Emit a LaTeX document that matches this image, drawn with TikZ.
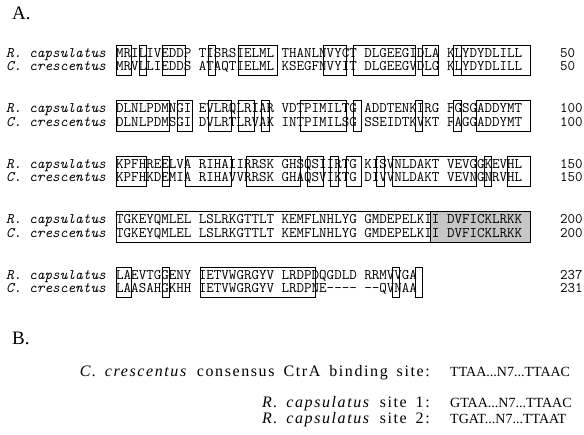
\documentclass[tikz,border=0pt]{standalone}
\usepackage{fontspec}
\setmainfont{Liberation Serif}
\newfontfamily\sitefont[LetterSpace=10, WordSpace=1.6]{Liberation Serif}
\usepackage{tikz}
\newcommand{\seqfont}{\ttfamily\fontsize{14.6}{15}\selectfont}
\newcommand{\gapp}{-\kern0pt-\kern0pt-\kern0pt-}
% box round residues #2..#3 of the block whose first row is at #1
\newcommand{\idbox}[3]{%
  \draw[idbox] ({116+(#2-1+int((#2-1)/10))*7.67},{#1-8})
    rectangle ({116+(#3+int((#3-1)/10))*7.67},{#1+22.5});}

\begin{document}
\begin{tikzpicture}[
  x=1pt, y=-1pt,
  seq/.style={font=\seqfont, anchor=base west, inner sep=0pt},
  org/.style={font=\seqfont\itshape, anchor=base west, inner sep=0pt},
  resnum/.style={font=\seqfont, anchor=base west, inner sep=0pt},
  idbox/.style={draw, line width=0.9pt},
  motif/.style={draw, line width=0.9pt, fill=gray!45},
  part/.style={font=\fontsize{19}{19}\selectfont, anchor=west, inner sep=0pt},
  sitelbl/.style={font=\sitefont\fontsize{16}{16}\selectfont, anchor=base east, inner sep=0pt},
  siteseq/.style={font=\fontsize{14}{14}\selectfont, anchor=base west, inner sep=0pt}
]
\useasboundingbox (0,0) rectangle (584,435);

% A. --- alignment
\node[part] (partA) at (12,13) {A.};

% residues 1-50
\foreach \a/\b in {1/2,4/4,7/9,12/12,16/20,26/28,30/36,38/39,41/41,42/50}
  \idbox{53}{\a}{\b};
\node[org] (rc1) at (6,57.5) {R.\ capsulatus};
\node[org] (cc1) at (6,71) {C.\ crescentus};
\node[seq] (rs1) at (116,57.5) {MRILIVEDDP TISRSIELML THANLNVYCT DLGEEGIDLA KLYDYDLILL};
\node[seq] (cs1) at (116,71) {MRVLLIEDDS ATAQTIELML KSEGFNVYIT DLGEEGVDLG KLYDYDLILL};
\node[resnum] (rn1) at (560,57.5) {50};
\node[resnum] (cn1) at (560,71) {50};

% residues 51-100
\foreach \a/\b in {1/7,9/10,12/14,16/17,19/19,23/28,30/30,37/37,41/41,44/50}
  \idbox{108.5}{\a}{\b};
\node[org] (rc2) at (6,113) {R.\ capsulatus};
\node[org] (cc2) at (6,126.5) {C.\ crescentus};
\node[seq] (rs2) at (116,113) {DLNLPDMNGI EVLRQLRIAR VDTPIMILTG ADDTENKIRG FGSGADDYMT};
\node[seq] (cs2) at (116,126.5) {DLNLPDMSGI DVLRTLRVAK INTPIMILSG SSEIDTKVKT FAGGADDYMT};
\node[resnum] (rn2) at (560,113) {100};
\node[resnum] (cn2) at (560,126.5) {100};

% residues 101-150
\foreach \a/\b in {1/4,7/7,10/14,17/22,24/25,27/27,29/30,32/32,34/43,45/45,48/50}
  \idbox{164}{\a}{\b};
\node[org] (rc3) at (6,168.5) {R.\ capsulatus};
\node[org] (cc3) at (6,182) {C.\ crescentus};
\node[seq] (rs3) at (116,168.5) {KPFHREELVA RIHAIIRRSK GHSQSIIRTG KISVNLDAKT VEVGGKEVHL};
\node[seq] (cs3) at (116,182) {KPFHKDEMIA RIHAVVRRSK GHAQSVIKTG DIVVNLDAKT VEVNGNRVHL};
\node[resnum] (rn3) at (560,168.5) {150};
\node[resnum] (cn3) at (560,182) {150};

% residues 151-200, shaded stretch at the end
\draw[motif] ({116+41*7.67},{219.5-8}) rectangle ({116+54*7.67},{219.5+22.5});
\idbox{219.5}{1}{50}
\node[org] (rc4) at (6,224) {R.\ capsulatus};
\node[org] (cc4) at (6,237.5) {C.\ crescentus};
\node[seq] (rs4) at (116,224) {TGKEYQMLEL LSLRKGTTLT KEMFLNHLYG GMDEPELKII DVFICKLRKK};
\node[seq] (cs4) at (116,237.5) {TGKEYQMLEL LSLRKGTTLT KEMFLNHLYG GMDEPELKII DVFICKLRKK};
\node[resnum] (rn4) at (560,224) {200};
\node[resnum] (cn4) at (560,237.5) {200};

% residues 201-end
\foreach \a/\b in {1/2,7/7,11/24,34/34,37/37}
  \idbox{275}{\a}{\b};
\node[org] (rc5) at (6,279.5) {R.\ capsulatus};
\node[org] (cc5) at (6,293) {C.\ crescentus};
\node[seq] (rs5) at (116,279.5) {LAEVTGGENY IETVWGRGYV LRDPDQGDLD RRMVVGA};
\node[seq] (cs5) at (116,293) {LAASAHGKHH IETVWGRGYV LRDPNE\gapp{} -\kern0pt-QVNAA};
\node[resnum] (rn5) at (560,279.5) {237};
\node[resnum] (cn5) at (560,293) {231};

% B. --- CtrA sites
\node[part] (partB) at (12,338) {B.};
\node[sitelbl] (consLbl) at (430,377) {\textit{C.\ crescentus} consensus CtrA binding site:};
\node[siteseq] (consSeq) at (450,377) {TTAA...N7...TTAAC};
\node[sitelbl] (site1Lbl) at (430,408) {\textit{R.\ capsulatus} site 1:};
\node[siteseq] (site1Seq) at (450,408) {GTAA...N7...TTAAC};
\node[sitelbl] (site2Lbl) at (430,424) {\textit{R.\ capsulatus} site 2:};
\node[siteseq] (site2Seq) at (450,424) {TGAT...N7...TTAAT};

\end{tikzpicture}
\end{document}
